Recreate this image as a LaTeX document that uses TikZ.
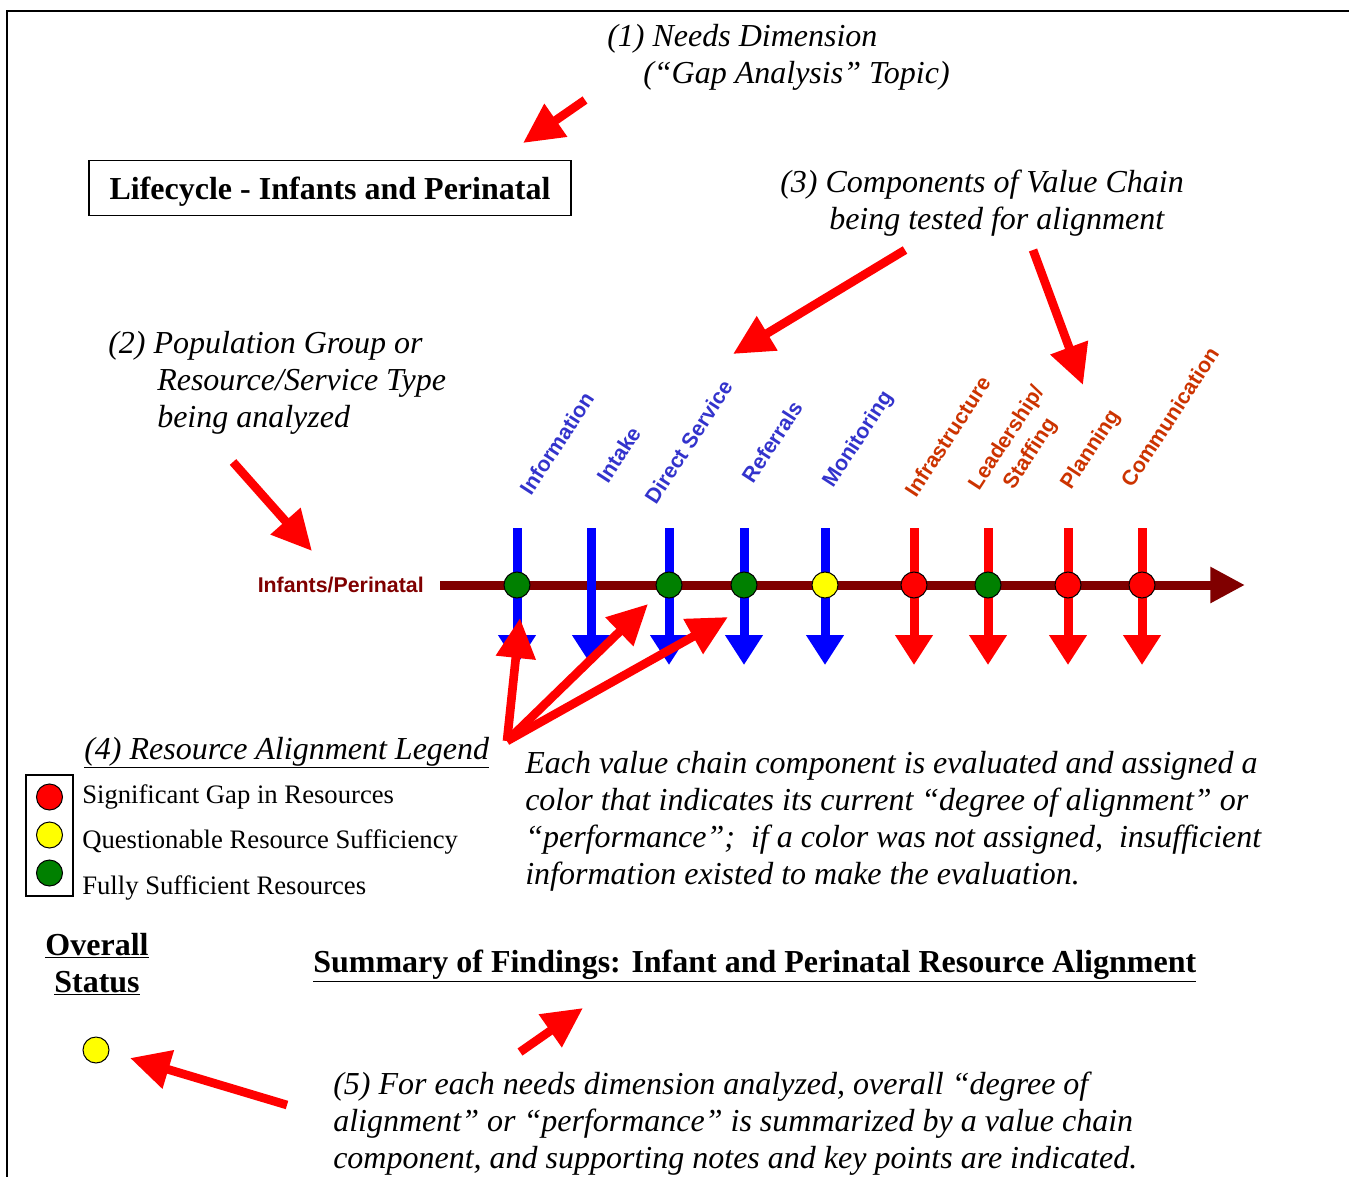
\documentclass[tikz,border=0pt]{standalone}
\usepackage{fontspec}
\setmainfont{Liberation Serif}
\newfontfamily\chainfont{Liberation Sans}
\usetikzlibrary{arrows.meta}
\newcommand{\leftlines}[1]{\begin{tabular}[t]{@{}l@{}}#1\end{tabular}}
\newcommand{\midlines}[1]{\begin{tabular}[t]{@{}c@{}}#1\end{tabular}}
\definecolor{chainblue}{RGB}{0,0,255}
\definecolor{chainred}{RGB}{255,0,0}
\definecolor{bluetext}{RGB}{51,51,204}
\definecolor{redtext}{RGB}{204,51,0}
\definecolor{axisred}{RGB}{128,0,0}
\definecolor{dotgreen}{RGB}{0,128,0}
\definecolor{dotyellow}{RGB}{255,255,0}
\tikzset{
note/.style = {anchor=base west, inner sep=0pt, font=\fontsize{24}{27.75}\selectfont\itshape},
title/.style = {inner sep=0pt, font=\fontsize{24}{27.75}\selectfont\bfseries},
keytext/.style = {anchor=base west, inner sep=0pt, font=\fontsize{20}{24}\selectfont},
comp/.style = {anchor=base west, rotate=57, inner sep=0pt, font=\fontsize{16}{21}\selectfont\chainfont\bfseries},
dot/.style = {draw=black, line width=0.75pt, circle, inner sep=0pt, minimum size=19.5pt},
vline/.style = {draw=#1, line width=6.75pt, -{Triangle[length=22.5pt,width=27pt]}},
pointer/.style = {draw=chainred, line width=6.5pt, -{Triangle[length=30pt,width=28.5pt]}},
}
\begin{document}
\begin{tikzpicture}[x=0.75pt, y=-0.75pt]
\useasboundingbox (0,0) rectangle (1349,1177);
\draw[line width=1.5pt] (7,1177) -- (7,11) -- (1349,11);

% headings and notes
\node[note] (needs) at (607,47) {\leftlines{(1) Needs Dimension\\\hspace*{27pt}(“Gap Analysis” Topic)}};
\node[title, draw, line width=1pt, text depth=0pt, minimum width=361.5pt, minimum height=41.25pt] (lifecycle) at (330,188) {Lifecycle - Infants and Perinatal};
\node[note] (components) at (780,193) {\leftlines{(3) Components of Value Chain\\\hspace*{36.75pt}being tested for alignment}};
\node[note] (population) at (108,353) {\leftlines{(2) Population Group or\\\hspace*{36.75pt}Resource/Service Type\\\hspace*{36.75pt}being analyzed}};

% value chain axis
\node[inner sep=0pt, anchor=east, text=axisred, font=\fontsize{16}{19}\selectfont\chainfont\bfseries] (group) at (424,585) {Infants/Perinatal};
\coordinate (axisend) at (1245,585);
\draw[draw=axisred, line width=6.75pt, -{Triangle[length=26pt,width=25.5pt]}] ([xshift=12pt]group.east) -- (axisend);

\foreach \n/\x/\c in {info/517/chainblue, intake/591/chainblue, direct/669/chainblue,
  referrals/744/chainblue, monitoring/825/chainblue, infra/914/chainred,
  leadership/988/chainred, planning/1068/chainred, communication/1142/chainred}{
  \coordinate (\n-top) at (\x,528);
  \coordinate (\n-bot) at (\x,665);
  \draw[vline=\c] (\n-top) -- (\n-bot);
}
\foreach \n/\x/\c in {info/517/dotgreen, direct/669/dotgreen, referrals/744/dotgreen,
  monitoring/825/dotyellow, infra/914/chainred, leadership/988/dotgreen,
  planning/1068/chainred, communication/1142/chainred}{
  \node[dot, fill=\c] (\n-dot) at (\x,585) {};
}

% component labels
\node[comp, text=bluetext] (info-lbl) at (531,497) {Information};
\node[comp, text=bluetext] (intake-lbl) at (608,485) {Intake};
\node[comp, text=bluetext] (direct-lbl) at (656,506) {Direct Service};
\node[comp, text=bluetext] (referrals-lbl) at (753,485) {Referrals};
\node[comp, text=bluetext] (monitoring-lbl) at (833,489) {Monitoring};
\node[comp, text=redtext] (infra-lbl) at (916,499) {Infrastructure};
\node[comp, text=redtext] (leadership-lbl) at (979,492) {\midlines{Leadership/\\Staffing}};
\node[comp, text=redtext] (planning-lbl) at (1071,491) {Planning};
\node[comp, text=redtext] (communication-lbl) at (1132,489) {Communication};

% legend
\node[note] (legendtitle) at (84,759) {\underline{(4) Resource Alignment Legend}};
\draw[line width=1pt] (26,775) rectangle (73,896);
\node[dot, fill=chainred] (gap-dot) at (49.5,797) {};
\node[dot, fill=dotyellow] (quest-dot) at (49.5,835) {};
\node[dot, fill=dotgreen] (full-dot) at (49.5,873) {};
\node[keytext] (gap) at (82,803) {Significant Gap in Resources};
\node[keytext] (quest) at (82,848) {Questionable Resource Sufficiency};
\node[keytext] (full) at (82,894) {Fully Sufficient Resources};

\node[note] (explain) at (525,773) {\leftlines{Each value chain component is evaluated and assigned a\\color that indicates its current “degree of alignment” or\\“performance”;\ \ if a color was not assigned,\ \ insufficient\\information existed to make the evaluation.}};

% summary
\node[title, anchor=base] (overall) at (97,955) {\midlines{\underline{Overall}\\\underline{Status}}};
\node[title, anchor=base west] (summary) at (313,972) {\underline{Summary of Findings: Infant and Perinatal Resource Alignment}};
\node[dot, fill=dotyellow] (status) at (96,1050) {};
\node[note] (summarynote) at (333,1094) {\leftlines{(5) For each needs dimension analyzed, overall “degree of\\alignment” or “performance” is summarized by a value chain\\component, and supporting notes and key points are indicated.}};

% red pointers
\coordinate (p1-from) at (585,100);   \coordinate (p1-to) at (523,143);
\coordinate (p2-from) at (905,250);   \coordinate (p2-to) at (733,354);
\coordinate (p3-from) at (1033,250);  \coordinate (p3-to) at (1083,385);
\coordinate (p4-from) at (233,462);   \coordinate (p4-to) at (312,551);
\coordinate (p5-from) at (507,741);
\coordinate (p5-a) at (520,618);
\coordinate (p5-b) at (648,604);
\coordinate (p5-c) at (728,617);
\coordinate (p6-from) at (520,1052);  \coordinate (p6-to) at (583,1008);
\coordinate (p7-from) at (287,1105);  \coordinate (p7-to) at (130,1058);
\foreach \p in {p1,p2,p3,p4,p6,p7}
  \draw[pointer] (\p-from) -- (\p-to);
\foreach \t in {a,b,c}
  \draw[pointer] (p5-from) -- (p5-\t);
\end{tikzpicture}
\end{document}
